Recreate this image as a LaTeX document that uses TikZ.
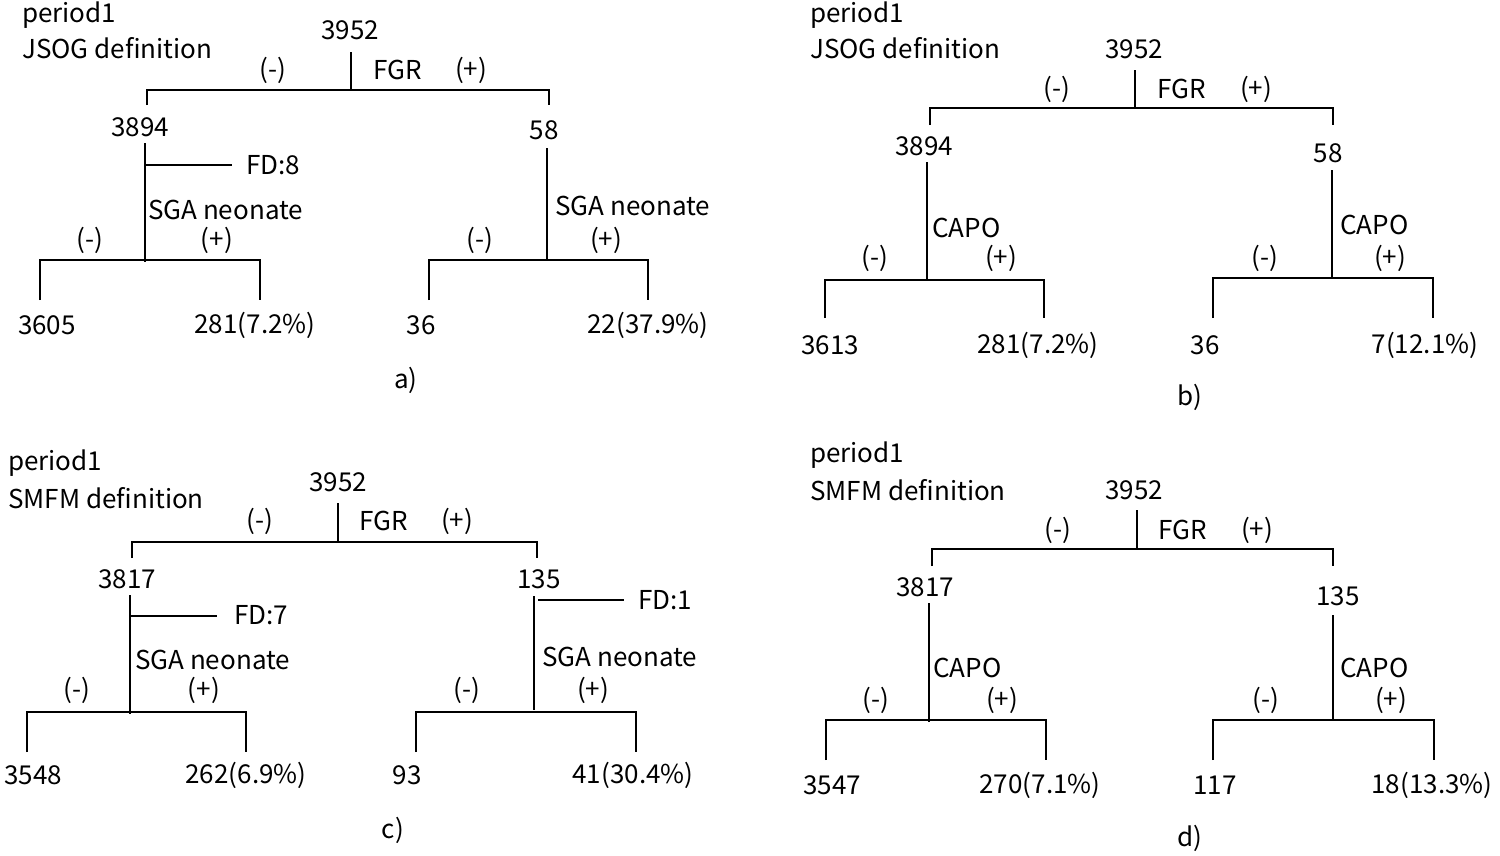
\documentclass[tikz,border=0pt]{standalone}
\usepackage{fontspec}
\setmainfont{Noto Sans CJK JP}
\tikzset{lbl/.style={inner sep=0pt,font=\fontsize{26}{30}\selectfont},
  brk/.style={line width=1.6pt}}
\begin{document}
\begin{tikzpicture}[x=1pt,y=1pt,yscale=-1,xscale=1]
\useasboundingbox (0,0) rectangle (1500,855);

% panel a
\node[lbl,anchor=west] (aP) at (22,15) {period1};
\node[lbl,anchor=west] (aD) at (22,48) {JSOG definition};
\node[lbl] (aTop) at (350,30) {3952};
\draw[brk] (351,52) -- (351,90);
\draw[brk] (147,105) -- (147,90) -- (549,90) -- (549,105);
\node[lbl] (aM) at (273,70) {(-)};
\node[lbl] (aF) at (398,70) {FGR};
\node[lbl] (aPl) at (471,70) {(+)};
\node[lbl] (aL) at (140,127) {3894};
\node[lbl] (aR) at (544,130) {58};
\draw[brk] (145,143) -- (145,262);
\draw[brk] (145,165) -- (232,165);
\node[lbl] (aFD) at (273,165) {FD:8};
\node[lbl,anchor=west] (aS1) at (148,210) {SGA neonate};
\node[lbl] (aLm) at (90,240) {(-)};
\node[lbl] (aLp) at (217,240) {(+)};
\draw[brk] (40,300) -- (40,260) -- (260,260) -- (260,300);
\node[lbl] (aLL) at (47,325) {3605};
\node[lbl] (aLR) at (255,325) {281(7.2\%)};
\draw[brk] (547,148) -- (547,260);
\node[lbl,anchor=west] (aS2) at (555,206) {SGA neonate};
\node[lbl] (aRm) at (480,240) {(-)};
\node[lbl] (aRp) at (606,240) {(+)};
\draw[brk] (429,300) -- (429,260) -- (648,260) -- (648,300);
\node[lbl] (aRL) at (421,325) {36};
\node[lbl] (aRR) at (648,325) {22(37.9\%)};
\node[lbl] (aCap) at (406,380) {a)};

% panel b
\node[lbl,anchor=west] (bP) at (810,15) {period1};
\node[lbl,anchor=west] (bD) at (810,48) {JSOG definition};
\node[lbl] (bTop) at (1134,49) {3952};
\draw[brk] (1135,70) -- (1135,108);
\draw[brk] (930,125) -- (930,108) -- (1333,108) -- (1333,125);
\node[lbl] (bM) at (1057,89) {(-)};
\node[lbl] (bF) at (1182,89) {FGR};
\node[lbl] (bPl) at (1256,89) {(+)};
\node[lbl] (bL) at (924,146) {3894};
\node[lbl] (bR) at (1328,153) {58};
\draw[brk] (927,162) -- (927,280);
\node[lbl,anchor=west] (bC1) at (932,228) {CAPO};
\node[lbl] (bLm) at (875,258) {(-)};
\node[lbl] (bLp) at (1001,258) {(+)};
\draw[brk] (825,318) -- (825,280) -- (1044,280) -- (1044,318);
\node[lbl] (bLL) at (830,345) {3613};
\node[lbl] (bLR) at (1038,345) {281(7.2\%)};
\draw[brk] (1332,170) -- (1332,278);
\node[lbl,anchor=west] (bC2) at (1340,225) {CAPO};
\node[lbl] (bRm) at (1265,258) {(-)};
\node[lbl] (bRp) at (1390,258) {(+)};
\draw[brk] (1213,318) -- (1213,278) -- (1433,278) -- (1433,318);
\node[lbl] (bRL) at (1205,345) {36};
\node[lbl] (bRR) at (1425,345) {7(12.1\%)};
\node[lbl] (bCap) at (1190,397) {b)};

% panel c
\node[lbl,anchor=west] (cP) at (8,463) {period1};
\node[lbl,anchor=west] (cD) at (8,498) {SMFM definition};
\node[lbl] (cTop) at (338,482) {3952};
\draw[brk] (338,503) -- (338,542);
\draw[brk] (132,558) -- (132,542) -- (537,542) -- (537,558);
\node[lbl] (cM) at (260,521) {(-)};
\node[lbl] (cF) at (384,521) {FGR};
\node[lbl] (cPl) at (457,521) {(+)};
\node[lbl] (cL) at (127,579) {3817};
\node[lbl] (cR) at (539,579) {135};
\draw[brk] (130,595) -- (130,714);
\draw[brk] (130,616) -- (217,616);
\node[lbl] (cFD) at (261,615) {FD:7};
\node[lbl,anchor=west] (cS1) at (135,660) {SGA neonate};
\node[lbl] (cLm) at (77,690) {(-)};
\node[lbl] (cLp) at (204,690) {(+)};
\draw[brk] (27,752) -- (27,712) -- (246,712) -- (246,752);
\node[lbl] (cLL) at (33,775) {3548};
\node[lbl] (cLR) at (246,775) {262(6.9\%)};
\draw[brk] (534,596) -- (534,710);
\draw[brk] (538,600) -- (624,600);
\node[lbl] (cFD2) at (665,600) {FD:1};
\node[lbl,anchor=west] (cS2) at (542,657) {SGA neonate};
\node[lbl] (cRm) at (467,690) {(-)};
\node[lbl] (cRp) at (593,690) {(+)};
\draw[brk] (416,752) -- (416,712) -- (636,712) -- (636,752);
\node[lbl] (cRL) at (407,775) {93};
\node[lbl] (cRR) at (633,775) {41(30.4\%)};
\node[lbl] (cCap) at (393,830) {c)};

% panel d
\node[lbl,anchor=west] (dP) at (810,455) {period1};
\node[lbl,anchor=west] (dD) at (810,490) {SMFM definition};
\node[lbl] (dTop) at (1134,490) {3952};
\draw[brk] (1137,510) -- (1137,549);
\draw[brk] (932,566) -- (932,549) -- (1333,549) -- (1333,566);
\node[lbl] (dM) at (1058,530) {(-)};
\node[lbl] (dF) at (1183,530) {FGR};
\node[lbl] (dPl) at (1257,530) {(+)};
\node[lbl] (dL) at (925,587) {3817};
\node[lbl] (dR) at (1338,596) {135};
\draw[brk] (929,603) -- (929,722);
\node[lbl,anchor=west] (dC1) at (933,668) {CAPO};
\node[lbl] (dLm) at (876,700) {(-)};
\node[lbl] (dLp) at (1002,700) {(+)};
\draw[brk] (826,760) -- (826,720) -- (1046,720) -- (1046,760);
\node[lbl] (dLL) at (832,785) {3547};
\node[lbl] (dLR) at (1040,785) {270(7.1\%)};
\draw[brk] (1333,615) -- (1333,720);
\node[lbl,anchor=west] (dC2) at (1340,668) {CAPO};
\node[lbl] (dRm) at (1266,700) {(-)};
\node[lbl] (dRp) at (1391,700) {(+)};
\draw[brk] (1213,760) -- (1213,720) -- (1434,720) -- (1434,760);
\node[lbl] (dRL) at (1215,785) {117};
\node[lbl] (dRR) at (1432,785) {18(13.3\%)};
\node[lbl] (dCap) at (1190,838) {d)};

\end{tikzpicture}
\end{document}
